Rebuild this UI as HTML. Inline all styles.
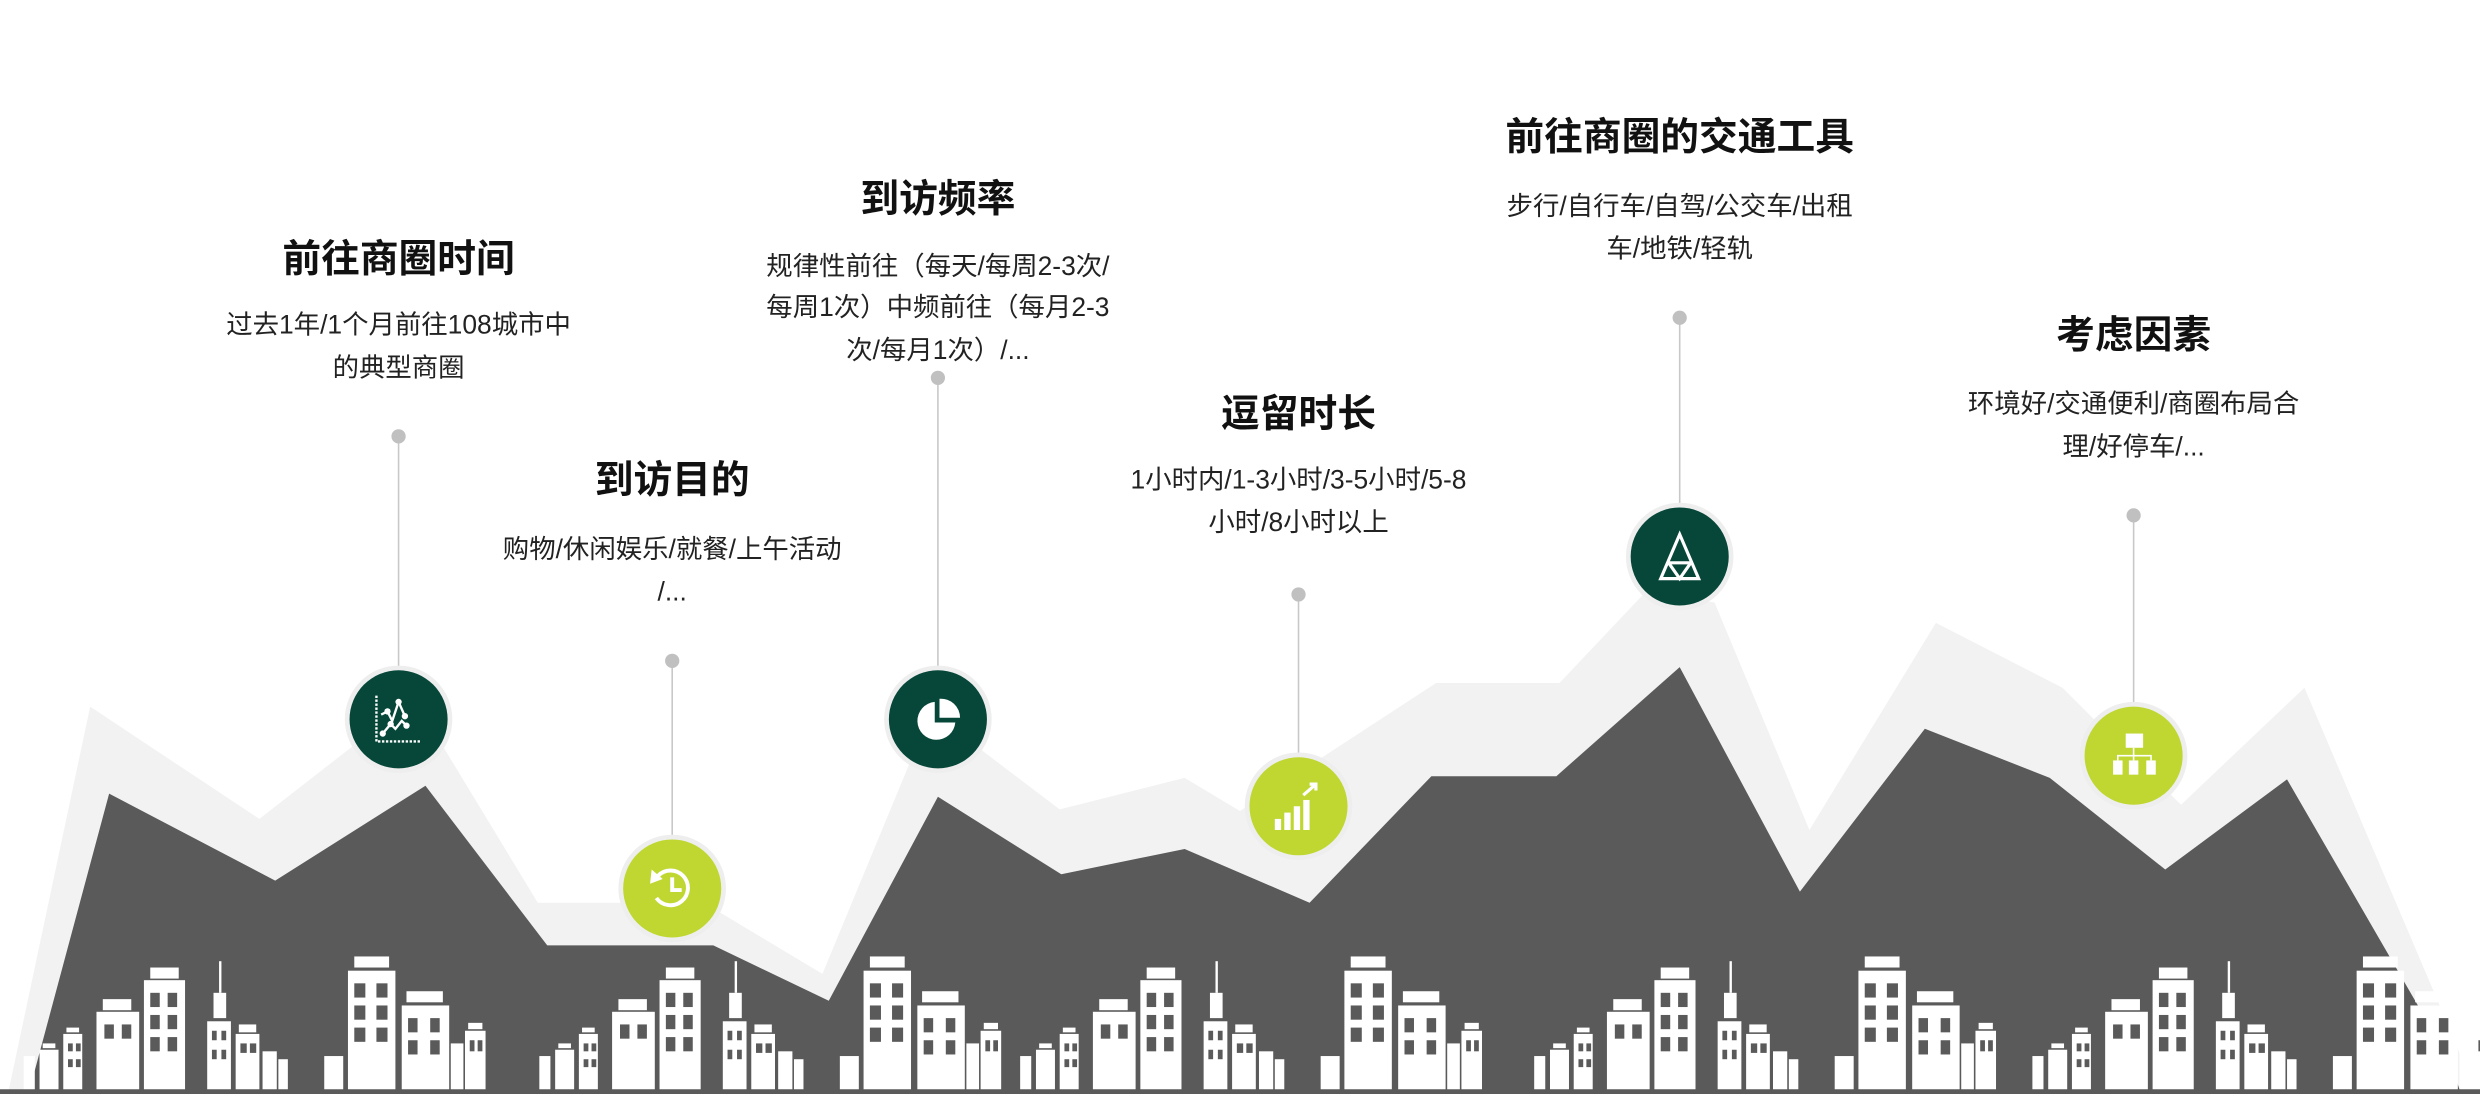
<!DOCTYPE html>
<html><head><meta charset="utf-8"><style>
html,body{margin:0;padding:0;background:#fff;}
svg{display:block;}
.t{font-family:"Liberation Sans","Noto Sans CJK SC",sans-serif;font-weight:bold;font-size:24.5px;fill:#111;text-anchor:middle;}
.d{font-family:"Liberation Sans","Noto Sans CJK SC",sans-serif;font-size:16.7px;fill:#222;text-anchor:middle;}
</style></head><body>
<svg width="2480" height="1094" viewBox="0 0 1568 692" preserveAspectRatio="none" xmlns="http://www.w3.org/2000/svg">
<defs>
<g id="city" fill="#fff">
<rect x="15" y="668" width="7" height="22"/>
<rect x="25" y="664" width="12" height="26"/><rect x="27" y="660" width="8" height="3"/>
<rect x="40" y="654" width="12" height="36"/><rect x="42" y="650" width="8" height="3"/>
<rect x="61" y="640" width="27" height="50"/><rect x="65" y="632" width="18" height="7"/>
<rect x="91" y="620" width="26" height="70"/><rect x="95" y="612" width="18" height="7"/>
<rect x="131" y="646" width="15" height="44"/><rect x="135" y="628" width="8" height="16"/><rect x="138.5" y="608" width="1.5" height="20"/>
<rect x="149" y="654" width="15" height="36"/><rect x="151" y="648" width="11" height="5"/>
<rect x="166" y="665" width="9" height="25"/>
<rect x="176" y="670" width="6" height="20"/>
<rect x="205" y="668" width="12" height="22"/>
<rect x="220" y="614" width="30" height="76"/><rect x="224" y="605" width="22" height="7"/>
<rect x="254" y="636" width="30" height="54"/><rect x="257" y="627" width="23" height="7"/>
<rect x="285" y="660" width="8" height="30"/>
<rect x="294" y="652" width="13" height="38"/><rect x="296" y="647" width="9" height="4"/>
<g fill="#5a5a5a">
<rect x="95" y="628" width="6" height="9"/><rect x="106" y="628" width="6" height="9"/>
<rect x="95" y="642" width="6" height="9"/><rect x="106" y="642" width="6" height="9"/>
<rect x="95" y="656" width="6" height="9"/><rect x="106" y="656" width="6" height="9"/>
<rect x="66" y="648" width="6" height="9"/><rect x="77" y="648" width="6" height="9"/>
<rect x="224" y="622" width="7" height="9"/><rect x="238" y="622" width="7" height="9"/>
<rect x="224" y="636" width="7" height="9"/><rect x="238" y="636" width="7" height="9"/>
<rect x="224" y="650" width="7" height="9"/><rect x="238" y="650" width="7" height="9"/>
<rect x="258" y="644" width="6" height="9"/><rect x="272" y="644" width="6" height="9"/>
<rect x="258" y="658" width="6" height="9"/><rect x="272" y="658" width="6" height="9"/>
<rect x="134" y="652" width="3" height="6"/><rect x="140" y="652" width="3" height="6"/>
<rect x="134" y="664" width="3" height="6"/><rect x="140" y="664" width="3" height="6"/>
<rect x="152" y="660" width="4" height="6"/><rect x="158" y="660" width="4" height="6"/>
<rect x="297" y="658" width="3" height="7"/><rect x="302" y="658" width="3" height="7"/>
<rect x="43" y="660" width="3" height="5"/><rect x="48" y="660" width="3" height="5"/>
<rect x="43" y="670" width="3" height="5"/><rect x="48" y="670" width="3" height="5"/>
<path d="M183 692 v-8 a10 9 0 0 1 20 0 v8z"/>
</g>
</g>
</defs>
<rect width="1568" height="692" fill="#fff"/>
<polygon fill="#f2f2f2" points="5,692 57,447 164,518 223,472 280,472 340,571 393,571 455,577 520,616 575,483 620,474 670,512 749,492 784,513 908,432 986,432 1039,376 1084,381 1144,525 1224,394 1304,435 1324,455 1379,509 1457,435 1554,663 1562,692"/>
<polygon fill="#5a5a5a" points="18,692 69,502 174,557 269,497 346,598 451,598 524,633 593,504 671,553 749,537 828,571 905,491 984,491 1062,422 1138,564 1217,461 1296,492 1369,550 1446,493 1549,671 1556,692"/>
<use href="#city" x="0"/>
<use href="#city" x="326"/>
<use href="#city" x="630"/>
<use href="#city" x="955"/>
<use href="#city" x="1270"/>
<rect x="0" y="689" width="1568" height="3" fill="#5a5a5a"/>
<g stroke="#c8c8c8" stroke-width="1">
<line x1="252" y1="276" x2="252" y2="425"/>
<line x1="425" y1="418" x2="425" y2="532"/>
<line x1="593" y1="239" x2="593" y2="425"/>
<line x1="821" y1="376" x2="821" y2="480"/>
<line x1="1062" y1="201" x2="1062" y2="322"/>
<line x1="1349" y1="326" x2="1349" y2="448"/>
</g>
<g fill="#c0c0c0">
<circle cx="252" cy="276" r="4.5"/><circle cx="425" cy="418" r="4.5"/><circle cx="593" cy="239" r="4.5"/>
<circle cx="821" cy="376" r="4.5"/><circle cx="1062" cy="201" r="4.5"/><circle cx="1349" cy="326" r="4.5"/>
</g>
<g fill="#eeeeee">
<circle cx="252" cy="455" r="34"/><circle cx="425" cy="562" r="34"/><circle cx="593" cy="455" r="34"/>
<circle cx="821" cy="510" r="34"/><circle cx="1062" cy="352" r="34"/><circle cx="1349" cy="478" r="34"/>
</g>
<circle cx="252" cy="455" r="31" fill="#07473a"/>
<circle cx="425" cy="562" r="31" fill="#bfd730"/>
<circle cx="593" cy="455" r="31" fill="#07473a"/>
<circle cx="821" cy="510" r="31" fill="#bfd730"/>
<circle cx="1062" cy="352" r="31" fill="#07473a"/>
<circle cx="1349" cy="478" r="31" fill="#bfd730"/>
<g stroke="#fff" fill="none" stroke-width="1.5">
<path d="M238 440 v29 h28" stroke-dasharray="1.5 1"/>
<polyline points="241,452 245,450 248,456 252,444 256,453"/>
<polyline points="242,464 247,458 250,461 254,456 257,459"/>
</g>
<g fill="#fff"><circle cx="245" cy="450" r="2"/><circle cx="252" cy="444" r="2"/><circle cx="256" cy="453" r="2"/><circle cx="242" cy="464" r="2"/><circle cx="247" cy="458" r="2"/><circle cx="257" cy="459" r="2"/></g>
<g stroke="#fff" fill="none" stroke-width="2.5"><path d="M416 554 A11 11 0 1 1 415 568"/><path d="M425 555 v8 h6"/></g>
<polygon points="412,550 419,556 411,559" fill="#fff"/>
<path d="M591 444 A12 12 0 1 0 604 457 L591 457 Z" fill="#fff"/>
<path d="M594 442 A12 12 0 0 1 607 454 L594 454 Z" fill="#fff"/>
<g fill="#fff"><rect x="806" y="518" width="4" height="7"/><rect x="812" y="514" width="4" height="11"/><rect x="818" y="510" width="4" height="15"/><rect x="824" y="506" width="4" height="19"/></g>
<path d="M824 503 l8 -7 M828 496 h4 v4" stroke="#fff" stroke-width="2" fill="none"/>
<g stroke="#fff" stroke-width="2" fill="none"><polygon points="1062,338 1050,366 1074,366"/><line x1="1055" y1="356" x2="1069" y2="356"/><polyline points="1055,356 1062,366 1069,356"/></g>
<g fill="#fff"><rect x="1344" y="464" width="11" height="9"/><rect x="1336" y="481" width="6" height="9"/><rect x="1346" y="481" width="6" height="9"/><rect x="1357" y="481" width="6" height="9"/></g>
<path d="M1349 473 v4 M1339 481 v-3 h21 v3 M1349 477 v4" stroke="#fff" stroke-width="1" fill="none"/>
<text class="t" x="252" y="172">前往商圈时间</text>
<text class="d" x="252" y="211">过去1年/1个月前往108城市中</text>
<text class="d" x="252" y="238">的典型商圈</text>
<text class="t" x="425" y="312">到访目的</text>
<text class="d" x="425" y="353">购物/休闲娱乐/就餐/上午活动</text>
<text class="d" x="425" y="380">/...</text>
<text class="t" x="593" y="134">到访频率</text>
<text class="d" x="593" y="174">规律性前往（每天/每周2-3次/</text>
<text class="d" x="593" y="200">每周1次）中频前往（每月2-3</text>
<text class="d" x="593" y="227">次/每月1次）/...</text>
<text class="t" x="821" y="270">逗留时长</text>
<text class="d" x="821" y="309">1小时内/1-3小时/3-5小时/5-8</text>
<text class="d" x="821" y="336">小时/8小时以上</text>
<text class="t" x="1062" y="95">前往商圈的交通工具</text>
<text class="d" x="1062" y="136">步行/自行车/自驾/公交车/出租</text>
<text class="d" x="1062" y="163">车/地铁/轻轨</text>
<text class="t" x="1349" y="220">考虑因素</text>
<text class="d" x="1349" y="261">环境好/交通便利/商圈布局合</text>
<text class="d" x="1349" y="288">理/好停车/...</text>
</svg>
</body></html>
